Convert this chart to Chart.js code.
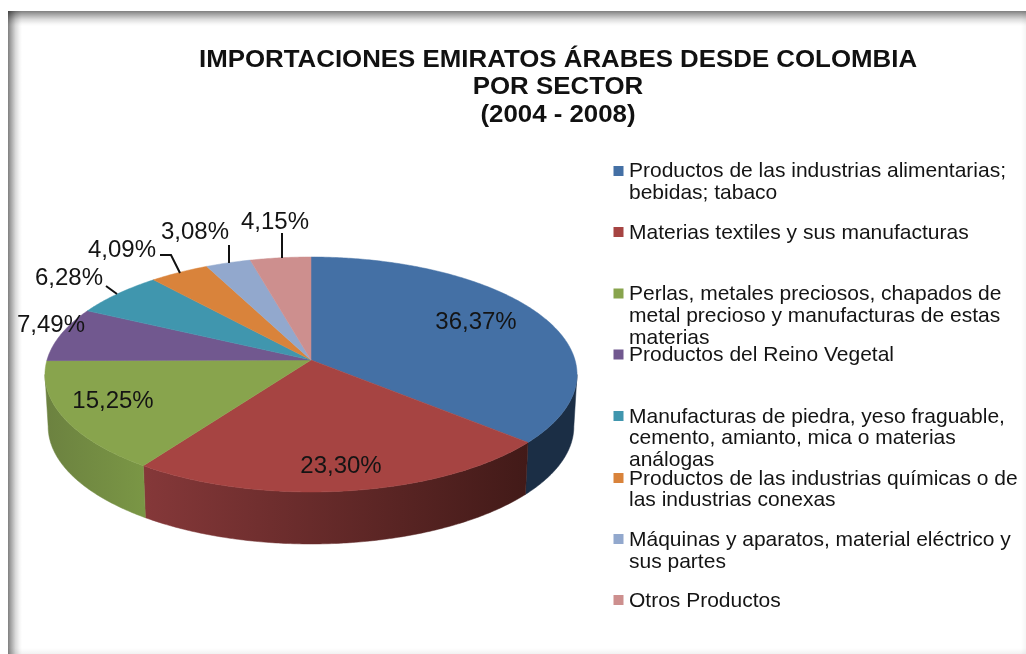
<!DOCTYPE html>
<html lang="es">
<head>
<meta charset="utf-8">
<title>Importaciones Emiratos Árabes desde Colombia</title>
<script src="https://cdn.jsdelivr.net/npm/chart.js@4"></script>
<style>
html,body{margin:0;padding:0;background:#fff;width:1026px;height:654px;overflow:hidden}
#frame{position:absolute;left:0;top:0;width:1026px;height:654px;background:#fff}
.edge{position:absolute}
#edgeTop{left:8px;top:11px;width:1018px;height:15px;background:linear-gradient(to bottom,rgba(0,0,0,.5),rgba(0,0,0,.36) 20%,rgba(0,0,0,.14) 55%,rgba(0,0,0,.03) 85%,rgba(0,0,0,0))}
#edgeLeft{left:8px;top:11px;width:14px;height:643px;background:linear-gradient(to right,rgba(0,0,0,.5),rgba(0,0,0,.36) 20%,rgba(0,0,0,.14) 55%,rgba(0,0,0,.03) 85%,rgba(0,0,0,0))}
#edgeRight{left:1021px;top:11px;width:5px;height:643px;background:linear-gradient(to right,rgba(0,0,0,0),rgba(0,0,0,.04))}
#edgeBottom{left:8px;top:648px;width:1018px;height:6px;background:linear-gradient(to bottom,rgba(0,0,0,0),rgba(0,0,0,.05))}
canvas{position:absolute;left:0;top:0}
</style>
</head>
<body>
<div id="frame">
<div class="edge" id="edgeTop"></div>
<div class="edge" id="edgeLeft"></div>
<div class="edge" id="edgeRight"></div>
<div class="edge" id="edgeBottom"></div>
<canvas id="c" width="1026" height="654"></canvas>
</div>
<script>
const titleLines = ['IMPORTACIONES EMIRATOS ÁRABES DESDE COLOMBIA', 'POR SECTOR', '(2004 - 2008)'];
const categories = [
  'Productos de las industrias alimentarias; bebidas; tabaco',
  'Materias textiles y sus manufacturas',
  'Perlas, metales preciosos, chapados de metal precioso y manufacturas de estas materias',
  'Productos del Reino Vegetal',
  'Manufacturas de piedra, yeso fraguable, cemento, amianto, mica o materias análogas',
  'Productos de las industrias químicas o de las industrias conexas',
  'Máquinas y aparatos, material eléctrico y sus partes',
  'Otros Productos'
];
const values = [36.37, 23.30, 15.25, 7.49, 6.28, 4.09, 3.08, 4.15];
const colors = ['#4470a5', '#a64442', '#88a44d', '#71588f', '#4096ae', '#d9833b', '#92a8cd', '#cd8f8e'];
const sideLeft = ['#1b2e45', '#853839', '#7a9645', '#5a4672', '#33788b', '#ad692f', '#7586a4', '#a47271'];
const sideRight = ['#1b2e45', '#421a18', '#6c8240', '#5a4672', '#33788b', '#ad692f', '#7586a4', '#a47271'];

/* legend layout: wrapped lines and their vertical centres */
const legendLines = [
  ['Productos de las industrias alimentarias;', 'bebidas; tabaco'],
  ['Materias textiles y sus manufacturas'],
  ['Perlas, metales preciosos, chapados de', 'metal precioso y manufacturas de estas', 'materias'],
  ['Productos del Reino Vegetal'],
  ['Manufacturas de piedra, yeso fraguable,', 'cemento, amianto, mica o materias', 'análogas'],
  ['Productos de las industrias químicas o de', 'las industrias conexas'],
  ['Máquinas y aparatos, material eléctrico y', 'sus partes'],
  ['Otros Productos']
];
const legendTextY = [[171.5, 193], [233], [294, 316, 338], [355], [417, 438, 460], [479, 500], [540, 562], [601]];
const legendMarkY = [171, 232, 293.5, 354.5, 416, 478, 539, 600];
const labelCentres = [[476, 322], [341, 466], [113, 401], [51, 325], [69, 278], [122, 250], [195, 232], [275, 222]];
const leaders = [null, null, null, null,
  [[106, 286], [117, 294]],
  [[160, 255], [171, 255], [180, 273]],
  [[229, 245], [229, 263]],
  [[282, 233], [282, 258]]
];

/* perspective projection of the pie disc */
const apex = { x: 311, y: 360 };
const persp = 0.1234, scaleX = 264, scaleY = 115.7, depth = 52, bottomShrinkX = 0.988;
const titleStretch = 1.1, titleCentre = 558;

function project(theta, r) {
  const u = Math.sin(theta) * r, v = -Math.cos(theta) * r;
  const d = 1 - persp * v;
  return { x: scaleX * u / d, y: scaleY * v / d };
}
function top3d(theta, r) {
  const p = project(theta, r);
  return { x: apex.x + p.x, y: apex.y + p.y };
}
function bottom3d(theta) {
  const p = project(theta, 1);
  return { x: apex.x + p.x * bottomShrinkX, y: apex.y + p.y + depth };
}
function samples(a0, a1) {
  const steps = Math.max(4, Math.ceil((a1 - a0) / 0.01));
  const pts = [];
  for (let i = 0; i <= steps; i++) pts.push(a0 + (a1 - a0) * i / steps);
  return pts;
}
const silhouette = Math.acos(-persp);

const pie3d = {
  id: 'pie3d',
  afterLayout(chart) {
    const box = chart.titleBlock;
    if (box && !box._stretched) {
      const draw = box.draw.bind(box);
      box.draw = function (area) {
        const ctx = chart.ctx;
        ctx.save();
        ctx.translate(titleCentre, 0);
        ctx.scale(titleStretch, 1);
        ctx.translate(-titleCentre, 0);
        draw(area);
        ctx.restore();
      };
      box._stretched = true;
    }
  },
  beforeDatasetsDraw(chart) {
    const ctx = chart.ctx;
    const arcs = chart.getDatasetMeta(0).data;
    const ang = arcs.map(a => [a.startAngle + Math.PI / 2, a.endAngle + Math.PI / 2]);
    ctx.save();
    /* side wall: only the rim between the two silhouette points is visible */
    arcs.forEach((arc, i) => {
      const a0 = Math.max(ang[i][0], silhouette);
      const a1 = Math.min(ang[i][1], 2 * Math.PI - silhouette);
      if (a1 <= a0) return;
      const pts = samples(a0, a1);
      const pA = top3d(ang[i][0], 1), pB = top3d(ang[i][1], 1);
      const g = ctx.createLinearGradient(Math.min(pA.x, pB.x), 0, Math.max(pA.x, pB.x), 0);
      g.addColorStop(0, i === 2 ? sideRight[i] : sideLeft[i]);
      g.addColorStop(1, i === 2 ? sideLeft[i] : sideRight[i]);
      ctx.beginPath();
      pts.forEach((t, k) => { const p = top3d(t, 1); k ? ctx.lineTo(p.x, p.y) : ctx.moveTo(p.x, p.y); });
      pts.slice().reverse().forEach(t => { const p = bottom3d(t); ctx.lineTo(p.x, p.y); });
      ctx.closePath();
      ctx.fillStyle = g;
      ctx.fill();
      ctx.strokeStyle = g;
      ctx.lineWidth = 0.5;
      ctx.stroke();
    });
    /* top face */
    arcs.forEach((arc, i) => {
      const pts = samples(ang[i][0], ang[i][1]);
      ctx.beginPath();
      ctx.moveTo(apex.x, apex.y);
      pts.forEach(t => { const p = top3d(t, 1); ctx.lineTo(p.x, p.y); });
      ctx.closePath();
      ctx.fillStyle = arc.options.backgroundColor;
      ctx.fill();
      ctx.strokeStyle = arc.options.backgroundColor;
      ctx.lineWidth = 0.5;
      ctx.stroke();
    });
    ctx.restore();
    return false;
  },
  afterDraw(chart) {
    const ctx = chart.ctx;
    ctx.save();
    ctx.textBaseline = 'middle';
    ctx.fillStyle = '#141414';
    /* data labels */
    ctx.font = '24px "Liberation Sans"';
    ctx.textAlign = 'center';
    values.forEach((v, i) => {
      const [x, y] = labelCentres[i];
      ctx.fillText(v.toFixed(2).replace('.', ',') + '%', x, y);
    });
    /* leader lines */
    ctx.strokeStyle = '#111';
    ctx.lineWidth = 2;
    leaders.forEach(l => {
      if (!l) return;
      ctx.beginPath();
      l.forEach((p, k) => k ? ctx.lineTo(p[0], p[1]) : ctx.moveTo(p[0], p[1]));
      ctx.stroke();
    });
    /* legend */
    ctx.font = '21px "Liberation Sans"';
    ctx.textAlign = 'left';
    legendLines.forEach((lines, i) => {
      ctx.fillStyle = colors[i];
      ctx.fillRect(613.5, legendMarkY[i] - 5, 10, 10);
      ctx.fillStyle = '#141414';
      lines.forEach((t, k) => ctx.fillText(t, 629, legendTextY[i][k]));
    });
    ctx.restore();
  }
};

new Chart(document.getElementById('c'), {
  type: 'pie',
  data: { labels: categories, datasets: [{ data: values, backgroundColor: colors, borderWidth: 0 }] },
  options: {
    responsive: false,
    animation: false,
    layout: { padding: { left: 90, top: 0, right: 0, bottom: 0 } },
    plugins: {
      legend: { display: false },
      tooltip: { enabled: false },
      title: {
        display: true,
        text: titleLines,
        fullSize: false,
        color: '#111',
        font: { family: '"Liberation Sans"', size: 23.5, weight: 'bold', lineHeight: 1.17 },
        padding: { top: 46.5, bottom: 10 }
      }
    }
  },
  plugins: [pie3d]
});
</script>
</body>
</html>
